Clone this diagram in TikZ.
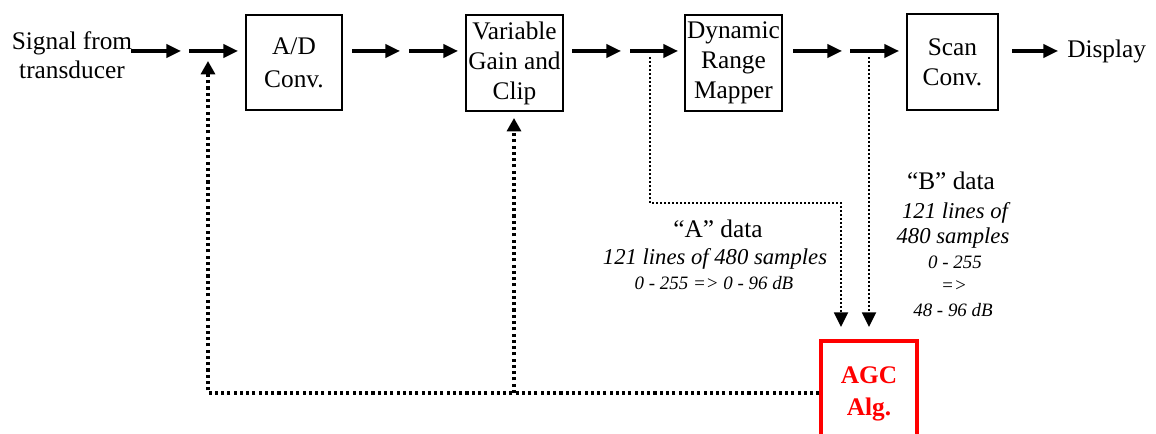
\documentclass[tikz,border=0pt]{standalone}
\usepackage{fontspec}
\setmainfont{Liberation Serif}
\usetikzlibrary{arrows.meta}
\begin{document}
\begin{tikzpicture}[x=0.75pt,y=-0.75pt,
  box/.style={draw,line width=1.8pt,inner sep=0pt,align=center,font=\fontsize{19}{22.5}\selectfont},
  flow/.style={line width=2.3pt,-{Triangle[length=11pt,width=10pt]}},
  fb/.style={line width=2.3pt,dash pattern=on 2.3pt off 2.4pt,-{Triangle[length=10pt,width=10.5pt]}},
  thindot/.style={line width=1.4pt,dash pattern=on 1.4pt off 1.6pt,-{Triangle[length=11pt,width=10.5pt]}},
  lbl/.style={inner sep=0pt,align=center,font=\fontsize{19}{22}\selectfont},
  ital/.style={inner sep=0pt,align=center,font=\fontsize{17}{20}\selectfont\itshape},
  smital/.style={inner sep=0pt,align=center,font=\fontsize{14.2}{16}\selectfont\itshape}
]
\path[use as bounding box] (0,0) rectangle (1156,434);
\clip (0,0) rectangle (1156,434);

% boxes
\node[box,minimum width=72pt,minimum height=71pt] (ad) at (294,62.5) {A/D\\[2pt]Conv.};
\node[box,minimum width=73pt,minimum height=72pt] (vg) at (514.5,63) {Variable\\Gain and\\Clip};
\node[box,minimum width=73pt,minimum height=72pt] (dr) at (733.5,63) {Dynamic\\Range\\Mapper};
\node[box,minimum width=68pt,minimum height=72pt] (sc) at (952.5,62) {Scan\\Conv.};
\node[draw=red,line width=2.3pt,minimum width=72pt,minimum height=78pt,inner sep=0pt] (agc) at (869,393) {};
\node[inner sep=0pt,align=center,text=red,font=\fontsize{19}{24}\selectfont\bfseries] (agct) at (869,394) {AGC\\Alg.};

% labels
\node[lbl] (sig) at (72,55) {Signal from\\transducer};
\node[lbl,anchor=west] (disp) at (1067,51) {Display};

% flow arrow coordinates
\coordinate (p1) at (131,51); \coordinate (p2) at (181,51);
\coordinate (p3) at (189,51); \coordinate (p4) at (238,51);
\coordinate (p5) at (352,51); \coordinate (p6) at (400,51);
\coordinate (p7) at (409,51); \coordinate (p8) at (458,51);
\coordinate (p9) at (572,51); \coordinate (p10) at (621,51);
\coordinate (p11) at (630,51); \coordinate (p12) at (678,51);
\coordinate (p13) at (793,51); \coordinate (p14) at (842,51);
\coordinate (p15) at (850,51); \coordinate (p16) at (899,51);
\coordinate (p17) at (1012,51); \coordinate (p18) at (1058,51);

\draw[flow] (p1) -- (p2);
\draw[flow] (p3) -- (p4);
\draw[flow] (p5) -- (p6);
\draw[flow] (p7) -- (p8);
\draw[flow] (p9) -- (p10);
\draw[flow] (p11) -- (p12);
\draw[flow] (p13) -- (p14);
\draw[flow] (p15) -- (p16);
\draw[flow] (p17) -- (p18);

% A and B data taps
\coordinate (atap) at (650,57);
\coordinate (btap) at (869,57);
\coordinate (ain) at (841,327);
\coordinate (bin) at (869,327);
\draw[thindot] (atap) -- (650,203) -| (ain);
\draw[thindot] (btap) -- (bin);

% feedback
\coordinate (fbA) at (208,61);
\coordinate (fbB0) at (514,393);
\coordinate (fbB) at (514,118);
\draw[fb] (agc.west) -| (fbA);
\draw[fb] (fbB0) -- (fbB);

% A data text
\node[lbl] (a1) at (718,229) {“A” data};
\node[ital] (a2) at (715,259) {121 lines of 480 samples};
\node[smital] (a3) at (714,283) {0 - 255 => 0 - 96 dB};

% B data text
\node[lbl] (b1) at (951,181) {“B” data};
\node[ital] (b2) at (955,213) {121 lines of};
\node[ital] (b3) at (953,238) {480 samples};
\node[smital] (b4) at (955,262) {0 - 255};
\node[smital] (b5) at (954,286) {=>};
\node[smital] (b6) at (953,310) {48 - 96 dB};
\end{tikzpicture}
\end{document}
